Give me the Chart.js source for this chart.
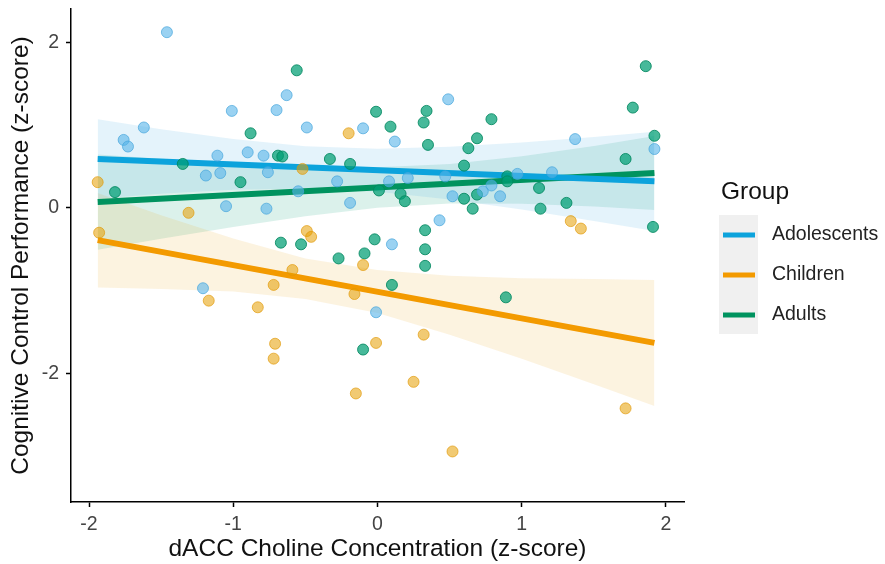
<!DOCTYPE html>
<html lang="en">
<head>
<meta charset="UTF-8">
<title>dACC Choline vs Cognitive Control</title>
<script src="https://cdn.jsdelivr.net/npm/chart.js"></script>
<style>
  html, body { margin: 0; padding: 0; background: #fff; }
</style>
</head>
<body>
<canvas id="chart" width="885" height="564"></canvas>
<script>
// groups (legend order)
const groups = ['Adolescents', 'Children', 'Adults'];

// raw points
const adolX = [-1.46, -1.62, -1.76, -1.73, -1.01, -0.70, -0.63, -1.11, -0.90, -0.79, -1.19, -1.09, -0.76, -1.05, -0.77, -1.21, -0.49, -0.10, 0.12, 0.49, -0.28, 0.08, 0.21, 0.47, -0.55, -0.19, 0.52, 0.43, 0.10, 1.37, 1.92, 1.21, 0.97, 0.79, 0.85, 0.73, -0.01];
const adolY = [2.12, 0.97, 0.82, 0.74, 1.17, 1.18, 1.36, 0.63, 0.67, 0.63, 0.39, 0.42, 0.43, 0.02, -0.01, -0.97, 0.97, 0.96, 0.80, 1.31, 0.32, 0.32, 0.36, 0.38, 0.20, 0.06, 0.14, -0.15, -0.44, 0.83, 0.71, 0.43, 0.41, 0.27, 0.14, 0.20, -1.26];

const childX = [-1.94, -1.93, -1.31, -1.17, -0.83, -0.72, -0.71, -0.72, -0.20, -0.52, -0.49, -0.46, -0.59, -0.10, -0.16, -0.01, -0.15, 0.32, 0.25, 0.52, 1.72, 1.34, 1.41];
const childY = [0.31, -0.30, -0.06, -1.12, -1.20, -0.93, -1.64, -1.82, 0.90, 0.47, -0.28, -0.35, -0.75, -0.69, -1.04, -1.63, -2.24, -1.53, -2.10, -2.94, -2.42, -0.16, -0.25];

const adultX = [-1.82, -1.35, -0.88, -0.95, -0.69, -0.66, -0.67, -0.56, -0.53, -0.01, 0.09, 0.34, 0.32, 0.35, -0.33, -0.19, 0.01, 0.16, 0.19, 0.60, 0.63, 0.69, 0.60, 0.69, 0.66, 0.33, 0.33, -0.02, -0.09, -0.27, 0.33, 0.10, -0.10, 0.89, 0.79, 0.90, 0.90, 1.12, 1.13, 1.31, 1.72, 1.77, 1.86, 1.92, 1.91];
const adultY = [0.19, 0.53, 0.90, 0.31, 0.63, 0.62, -0.42, 1.66, -0.44, 1.16, 0.98, 1.17, 1.03, 0.76, 0.59, 0.53, 0.21, 0.17, 0.08, 0.51, 0.72, 0.84, 0.11, 0.16, -0.01, -0.27, -0.50, -0.38, -0.55, -0.61, -0.70, -0.93, -1.71, -1.08, 1.07, 0.38, 0.32, 0.24, -0.01, 0.06, 0.59, 1.21, 1.71, 0.87, -0.23];

// fitted lines (ends)
const fitX = [-1.94, 1.92];
const adolFit = [0.59, 0.32];
const childFit = [-0.39, -1.63];
const adultFit = [0.07, 0.42];

// confidence bands
const bandX = [-1.94, -1.5, -1, -0.5, 0, 0.5, 1, 1.5, 1.92];
const adolUpper = [1.07, 0.95, 0.83, 0.745, 0.714, 0.736, 0.79, 0.856, 0.92];
const adolLower = [0.11, 0.17, 0.22, 0.233, 0.194, 0.102, -0.02, -0.158, -0.28];
const childUpper = [0.18, -0.09, -0.37, -0.61, -0.75, -0.82, -0.85, -0.86, -0.87];
const childLower = [-0.96, -0.98, -1.01, -1.10, -1.27, -1.53, -1.82, -2.13, -2.39];
const adultUpper = [0.645, 0.593, 0.54, 0.50, 0.491, 0.53, 0.622, 0.748, 0.866];
const adultLower = [-0.505, -0.373, -0.23, -0.10, 0.001, 0.052, 0.05, 0.016, -0.026];

const xTicks = [-2, -1, 0, 1, 2];
const yTicks = [-2, 0, 2];

const FONT = '"Liberation Sans", Arial, Helvetica, sans-serif';
const lineColours = ['#0ca3dc', '#f39a00', '#00935f'];

function pts(xs, ys) { return xs.map((x, i) => ({ x: x, y: ys[i] })); }

function band(upper, lower, fillColour) {
  return [
    { type: 'line', data: pts(bandX, upper), borderWidth: 0, pointRadius: 0, fill: false, order: 3 },
    { type: 'line', data: pts(bandX, lower), borderWidth: 0, pointRadius: 0, fill: '-1', backgroundColor: fillColour, order: 3 }
  ];
}

function fitLine(ys, colour) {
  return { type: 'line', data: pts(fitX, ys), borderColor: colour, borderWidth: 6, pointRadius: 0, fill: false, order: 2 };
}

function scatter(xs, ys, fill, edge) {
  return { type: 'scatter', data: pts(xs, ys), backgroundColor: fill, borderColor: edge, borderWidth: 1, pointRadius: 5.5, order: 1 };
}

const legendPlugin = {
  id: 'groupLegend',
  afterDraw(chart) {
    const ctx = chart.ctx;
    ctx.save();
    ctx.textBaseline = 'middle';
    ctx.fillStyle = '#111';
    ctx.font = '24.5px ' + FONT;
    ctx.fillText('Group', 721, 192);
    ctx.fillStyle = '#f0f0f0';
    ctx.fillRect(719, 215, 39, 119);
    groups.forEach((g, i) => {
      const y = 235 + i * 40;
      ctx.strokeStyle = lineColours[i];
      ctx.lineWidth = 5;
      ctx.beginPath();
      ctx.moveTo(723, y);
      ctx.lineTo(755, y);
      ctx.stroke();
      ctx.fillStyle = '#222';
      ctx.font = '19.5px ' + FONT;
      ctx.fillText(g, 772, y);
    });
    ctx.restore();
  }
};

new Chart(document.getElementById('chart'), {
  type: 'scatter',
  data: {
    datasets: [
      ...band(adolUpper, adolLower, 'rgba(86,180,233,0.16)'),
      ...band(childUpper, childLower, 'rgba(230,159,0,0.12)'),
      ...band(adultUpper, adultLower, 'rgba(0,158,115,0.14)'),
      fitLine(adolFit, lineColours[0]),
      fitLine(childFit, lineColours[1]),
      fitLine(adultFit, lineColours[2]),
      scatter(adolX, adolY, 'rgba(86,180,233,0.6)', 'rgba(70,165,220,0.7)'),
      scatter(childX, childY, 'rgba(230,159,0,0.55)', 'rgba(225,150,0,0.65)'),
      scatter(adultX, adultY, 'rgba(0,158,115,0.72)', 'rgba(0,135,95,0.85)')
    ]
  },
  options: {
    responsive: false,
    animation: false,
    devicePixelRatio: 1,
    layout: { padding: { top: 9, right: 201, bottom: 0, left: 0 } },
    plugins: { legend: { display: false }, tooltip: { enabled: false } },
    scales: {
      x: {
        type: 'linear',
        min: -2.125,
        max: 2.125,
        afterBuildTicks: s => { s.ticks = xTicks.map(v => ({ value: v })); },
        afterFit: s => { s.height = 62; s.paddingLeft = 0; s.paddingRight = 0; },
        border: { display: true, color: '#000', width: 1.5 },
        grid: { drawOnChartArea: false, drawTicks: true, tickLength: 5, tickColor: '#000', tickWidth: 1.5 },
        ticks: { color: '#444', padding: 6, font: { family: FONT, size: 19.5 }, callback: v => String(v) },
        title: { display: true, text: 'dACC Choline Concentration (z-score)', color: '#111', font: { family: FONT, size: 24.5 }, padding: { top: 0, bottom: 0 } }
      },
      y: {
        type: 'linear',
        min: -3.55,
        max: 2.4,
        afterBuildTicks: s => { s.ticks = yTicks.map(v => ({ value: v })); },
        afterFit: s => { s.width = 71; s.paddingTop = 0; s.paddingBottom = 0; },
        border: { display: true, color: '#000', width: 1.5 },
        grid: { drawOnChartArea: false, drawTicks: true, tickLength: 5, tickColor: '#000', tickWidth: 1.5 },
        ticks: { color: '#444', padding: 7, font: { family: FONT, size: 19.5 }, callback: v => String(v) },
        title: { display: true, text: 'Cognitive Control Performance (z-score)', color: '#111', font: { family: FONT, size: 24.5 }, padding: { top: 7, bottom: 0 } }
      }
    }
  },
  plugins: [legendPlugin]
});
</script>
</body>
</html>
